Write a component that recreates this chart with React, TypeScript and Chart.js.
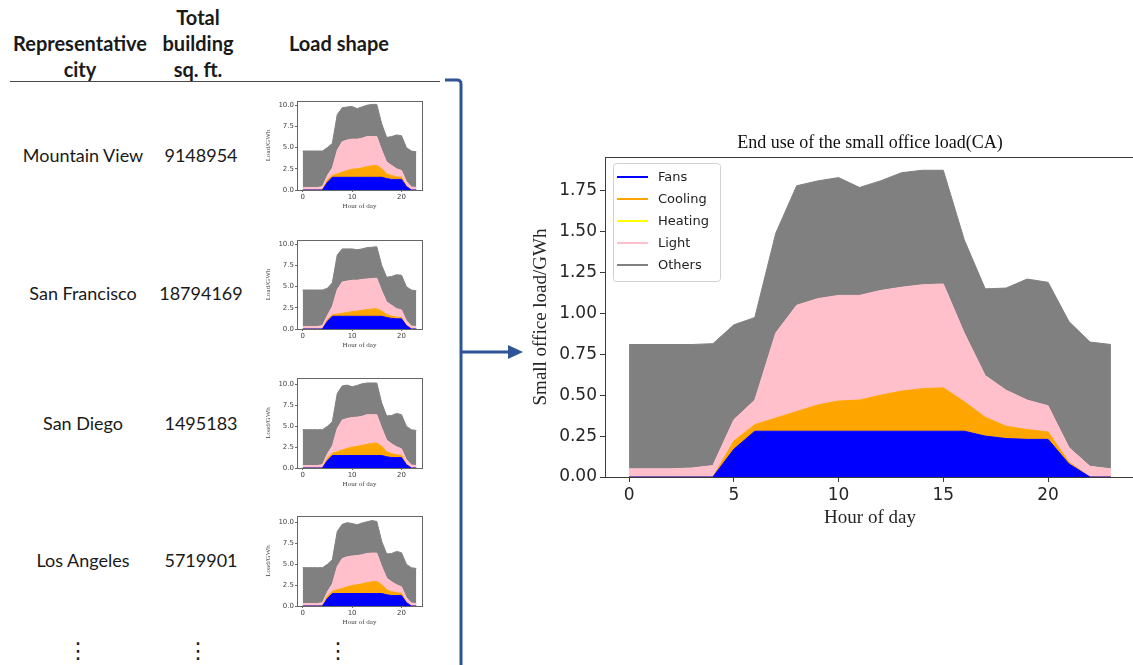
import React, { useEffect, useRef } from "react";
import { Chart, registerables } from "chart.js";
Chart.register(...registerables);

// ---------------- data ----------------
const hours = [0, 1, 2, 3, 4, 5, 6, 7, 8, 9, 10, 11, 12, 13, 14, 15, 16, 17, 18, 19, 20, 21, 22, 23];

// Main chart: end use of the small office load (CA), GWh
const caFans = [0, 0, 0, 0, 0, 0.17, 0.28, 0.28, 0.28, 0.28, 0.28, 0.28, 0.28, 0.28, 0.28, 0.28, 0.28, 0.25, 0.235, 0.23, 0.23, 0.08, 0, 0];
const caCooling = [0, 0, 0, 0, 0, 0.05, 0.04, 0.08, 0.12, 0.16, 0.185, 0.19, 0.22, 0.245, 0.26, 0.265, 0.18, 0.115, 0.075, 0.06, 0.045, 0.01, 0, 0];
const caHeating = [0, 0, 0, 0, 0, 0, 0, 0, 0, 0, 0, 0, 0, 0, 0, 0, 0, 0, 0, 0, 0, 0, 0, 0];
const caLight = [0.05, 0.05, 0.05, 0.055, 0.07, 0.13, 0.15, 0.52, 0.65, 0.65, 0.645, 0.64, 0.64, 0.635, 0.635, 0.635, 0.42, 0.255, 0.22, 0.18, 0.16, 0.09, 0.065, 0.05];
const caOthers = [0.76, 0.76, 0.76, 0.755, 0.745, 0.58, 0.505, 0.61, 0.73, 0.72, 0.72, 0.66, 0.67, 0.7, 0.7, 0.695, 0.57, 0.53, 0.625, 0.74, 0.755, 0.77, 0.76, 0.76];

// Small load-shape charts (per city)
const zeroHeating = [0, 0, 0, 0, 0, 0, 0, 0, 0, 0, 0, 0, 0, 0, 0, 0, 0, 0, 0, 0, 0, 0, 0, 0];

const mvFans = [0, 0, 0, 0, 0, 0.9, 1.5, 1.5, 1.5, 1.5, 1.5, 1.5, 1.5, 1.5, 1.5, 1.5, 1.5, 1.35, 1.25, 1.25, 1.25, 0.4, 0, 0];
const mvCooling = [0, 0, 0, 0, 0, 0.3, 0.2, 0.4, 0.6, 0.8, 0.95, 1.0, 1.1, 1.25, 1.35, 1.4, 1.0, 0.55, 0.45, 0.3, 0.25, 0.05, 0, 0];
const mvLight = [0.3, 0.3, 0.3, 0.3, 0.4, 0.5, 0.9, 2.8, 3.6, 3.6, 3.55, 3.5, 3.5, 3.55, 3.45, 3.4, 2.2, 1.4, 1.2, 0.95, 0.8, 0.55, 0.35, 0.3];
const mvOthers = [4.3, 4.3, 4.3, 4.3, 4.2, 3.3, 2.9, 4.2, 4.0, 3.9, 3.85, 3.6, 3.7, 3.7, 3.8, 3.8, 3.1, 2.9, 3.4, 4.0, 4.1, 4.0, 4.25, 4.2];

const sfFans = [0, 0, 0, 0, 0, 0.9, 1.5, 1.5, 1.5, 1.5, 1.5, 1.5, 1.5, 1.5, 1.5, 1.5, 1.5, 1.35, 1.25, 1.2, 1.2, 0.4, 0, 0];
const sfCooling = [0, 0, 0, 0, 0, 0.2, 0.15, 0.25, 0.35, 0.45, 0.55, 0.6, 0.7, 0.8, 0.85, 0.9, 0.6, 0.35, 0.25, 0.2, 0.15, 0.03, 0, 0];
const sfLight = [0.3, 0.3, 0.3, 0.3, 0.4, 0.5, 1.0, 2.9, 3.7, 3.7, 3.7, 3.65, 3.65, 3.6, 3.6, 3.6, 2.4, 1.5, 1.3, 1.0, 0.9, 0.55, 0.35, 0.3];
const sfOthers = [4.3, 4.3, 4.3, 4.3, 4.2, 3.2, 2.8, 4.1, 3.9, 3.8, 3.7, 3.6, 3.6, 3.7, 3.7, 3.7, 3.0, 2.9, 3.4, 4.0, 4.1, 4.0, 4.25, 4.2];

const sdFans = [0, 0, 0, 0, 0, 0.9, 1.5, 1.5, 1.5, 1.5, 1.5, 1.5, 1.5, 1.5, 1.5, 1.5, 1.5, 1.35, 1.25, 1.25, 1.25, 0.4, 0, 0];
const sdCooling = [0, 0, 0, 0, 0, 0.3, 0.25, 0.45, 0.65, 0.85, 1.0, 1.1, 1.2, 1.35, 1.45, 1.5, 1.1, 0.6, 0.45, 0.35, 0.25, 0.05, 0, 0];
const sdLight = [0.3, 0.3, 0.3, 0.3, 0.4, 0.5, 0.9, 2.8, 3.6, 3.6, 3.55, 3.5, 3.5, 3.55, 3.45, 3.4, 2.2, 1.4, 1.2, 0.95, 0.8, 0.55, 0.35, 0.3];
const sdOthers = [4.3, 4.3, 4.3, 4.3, 4.2, 3.3, 2.9, 4.2, 4.1, 4.0, 3.7, 3.8, 3.9, 3.8, 3.8, 3.8, 3.0, 2.9, 3.4, 4.0, 4.1, 4.0, 4.25, 4.2];

const laFans = [0, 0, 0, 0, 0, 0.9, 1.5, 1.5, 1.5, 1.5, 1.5, 1.5, 1.5, 1.5, 1.5, 1.5, 1.5, 1.35, 1.25, 1.25, 1.25, 0.4, 0, 0];
const laCooling = [0, 0, 0, 0, 0, 0.3, 0.25, 0.45, 0.6, 0.8, 0.95, 1.05, 1.15, 1.3, 1.4, 1.45, 1.05, 0.6, 0.45, 0.35, 0.25, 0.05, 0, 0];
const laLight = [0.3, 0.3, 0.3, 0.3, 0.4, 0.5, 0.9, 2.8, 3.6, 3.6, 3.55, 3.5, 3.5, 3.5, 3.45, 3.4, 2.2, 1.4, 1.2, 0.95, 0.8, 0.55, 0.35, 0.3];
const laOthers = [4.3, 4.3, 4.3, 4.3, 4.2, 3.3, 2.9, 4.2, 4.1, 4.1, 3.9, 3.7, 3.8, 3.8, 3.9, 3.8, 3.0, 2.9, 3.4, 4.0, 4.1, 4.0, 4.25, 4.2];

const seriesNames = ["Fans", "Cooling", "Heating", "Light", "Others"];
const seriesColors = ["#0000ff", "#ffa500", "#ffff00", "#ffc0cb", "#808080"];

const cityNames = ["Mountain View", "San Francisco", "San Diego", "Los Angeles"];
const citySqft = ["9148954", "18794169", "1495183", "5719901"];

const mainYTicks = [0, 0.25, 0.5, 0.75, 1.0, 1.25, 1.5, 1.75];
const mainXTicks = [0, 5, 10, 15, 20];
const smallYTicks = [0, 2.5, 5, 7.5, 10];
const smallXTicks = [0, 10, 20];

// ---------------- helpers ----------------
type ChartOpts = {
  width: number;
  height: number;
  plotLeft: number;
  plotTop: number;
  plotRight: number;
  plotBottom: number;
  yMax: number;
  yTicks: number[];
  yDigits: number;
  xTicks: number[];
  tickFont: number;
  tickLen: number;
  tickPad: number;
  tickColor: string;
  frameColor: string;
  title?: string;
  titleFont?: number;
  titleY?: number;
  xTitle: string;
  xTitleY: number;
  yTitle: string;
  yTitleX: number;
  labelFont: number;
  legend: boolean;
};

const decorPlugin = {
  id: "decor",
  afterDraw(chart: any, _args: any, o: any) {
    const { ctx, chartArea: a } = chart;
    ctx.save();
    // frame (spines)
    ctx.strokeStyle = o.frameColor;
    ctx.lineWidth = 1;
    ctx.strokeRect(Math.round(a.left) + 0.5, Math.round(a.top) + 0.5, Math.round(a.right - a.left), Math.round(a.bottom - a.top));
    const cx = (a.left + a.right) / 2;
    ctx.fillStyle = "#111";
    ctx.textAlign = "center";
    ctx.textBaseline = "middle";
    if (o.title) {
      ctx.font = `${o.titleFont}px "Liberation Serif", "DejaVu Serif", serif`;
      ctx.fillText(o.title, cx, o.titleY);
    }
    ctx.font = `${o.labelFont}px "Liberation Serif", "DejaVu Serif", serif`;
    ctx.fillStyle = o.labelColor;
    ctx.fillText(o.xTitle, cx, o.xTitleY);
    ctx.save();
    ctx.translate(o.yTitleX, (a.top + a.bottom) / 2);
    ctx.rotate(-Math.PI / 2);
    ctx.fillText(o.yTitle, 0, 0);
    ctx.restore();
    if (o.legend) {
      const bx = a.left + 8;
      const by = a.top + 6;
      const bw = 107;
      const bh = 118;
      ctx.beginPath();
      if (ctx.roundRect) ctx.roundRect(bx + 0.5, by + 0.5, bw, bh, 3);
      else ctx.rect(bx + 0.5, by + 0.5, bw, bh);
      ctx.fillStyle = "rgba(255,255,255,0.85)";
      ctx.fill();
      ctx.strokeStyle = "#d0d0d0";
      ctx.lineWidth = 1;
      ctx.stroke();
      ctx.font = `13px "DejaVu Sans", sans-serif`;
      ctx.textAlign = "left";
      ctx.textBaseline = "middle";
      seriesNames.forEach((n, i) => {
        const y = by + 14 + i * 22;
        ctx.strokeStyle = seriesColors[i];
        ctx.lineWidth = 2;
        ctx.beginPath();
        ctx.moveTo(bx + 4, y);
        ctx.lineTo(bx + 35, y);
        ctx.stroke();
        ctx.fillStyle = "#222";
        ctx.fillText(n, bx + 45, y + 1);
      });
    }
    ctx.restore();
  },
};

function buildConfig(series: number[][], o: ChartOpts): any {
  const datasets = series.map((vals, i) => ({
    label: seriesNames[i],
    data: vals.map((v, j) => ({ x: hours[j], y: v })),
    borderColor: seriesColors[i],
    backgroundColor: seriesColors[i],
    borderWidth: i === 2 ? 0 : 1,
    pointRadius: 0,
    pointHoverRadius: 0,
    tension: 0,
    fill: i === 0 ? "origin" : "-1",
  }));
  const tickFont = { family: '"DejaVu Sans", sans-serif', size: o.tickFont };
  return {
    type: "line",
    data: { datasets },
    plugins: [decorPlugin],
    options: {
      animation: false,
      responsive: false,
      maintainAspectRatio: false,
      events: [],
      layout: { padding: { left: 0, top: o.plotTop, right: o.width - o.plotRight, bottom: 0 } },
      plugins: {
        legend: { display: false },
        tooltip: { enabled: false },
        title: { display: false },
        decor: {
          frameColor: o.frameColor,
          title: o.title,
          titleFont: o.titleFont,
          titleY: o.titleY,
          xTitle: o.xTitle,
          xTitleY: o.xTitleY,
          yTitle: o.yTitle,
          yTitleX: o.yTitleX,
          labelFont: o.labelFont,
          labelColor: o.tickColor,
          legend: o.legend,
        },
      },
      scales: {
        x: {
          type: "linear",
          min: -1.15,
          max: 24.15,
          border: { display: false },
          grid: { display: true, drawOnChartArea: false, drawTicks: true, tickLength: o.tickLen, color: o.frameColor },
          ticks: {
            font: tickFont,
            color: o.tickColor,
            padding: o.tickPad,
            maxRotation: 0,
            autoSkip: false,
            callback: (v: any) => String(v),
          },
          afterBuildTicks: (s: any) => {
            s.ticks = o.xTicks.map((v) => ({ value: v }));
          },
          afterFit: (s: any) => {
            s.height = o.height - o.plotBottom;
          },
        },
        y: {
          type: "linear",
          stacked: true,
          min: 0,
          max: o.yMax,
          border: { display: false },
          grid: { display: true, drawOnChartArea: false, drawTicks: true, tickLength: o.tickLen, color: o.frameColor },
          ticks: {
            font: tickFont,
            color: o.tickColor,
            padding: o.tickPad,
            autoSkip: false,
            callback: (v: any) => Number(v).toFixed(o.yDigits),
          },
          afterBuildTicks: (s: any) => {
            s.ticks = o.yTicks.map((v) => ({ value: v }));
          },
          afterFit: (s: any) => {
            s.width = o.plotLeft;
          },
        },
      },
    },
  };
}

function StackChart(props: { series: number[][]; opts: ChartOpts; left: number; top: number }) {
  const ref = useRef<HTMLCanvasElement | null>(null);
  const { series, opts, left, top } = props;
  useEffect(() => {
    if (!ref.current) return;
    const chart = new Chart(ref.current, buildConfig(series, opts));
    return () => chart.destroy();
  }, []);
  return (
    <canvas
      ref={ref}
      width={opts.width}
      height={opts.height}
      style={{ position: "absolute", left, top, width: opts.width, height: opts.height }}
    />
  );
}

// ---------------- layout ----------------
const mainOpts: ChartOpts = {
  width: 660,
  height: 430,
  plotLeft: 105,
  plotTop: 37,
  plotRight: 635,
  plotBottom: 357,
  yMax: 1.956,
  yTicks: mainYTicks,
  yDigits: 2,
  xTicks: mainXTicks,
  tickFont: 17,
  tickLen: 5,
  tickPad: 3,
  tickColor: "#262626",
  frameColor: "#3a3a3a",
  title: "End use of the small office load(CA)",
  titleFont: 18,
  titleY: 23,
  xTitle: "Hour of day",
  xTitleY: 398,
  yTitle: "Small office load/GWh",
  yTitleX: 41,
  labelFont: 19,
  legend: true,
};

const smallBoxes = [
  { top: 101, bottom: 190, yMax: 10.5 },
  { top: 240, bottom: 329, yMax: 10.5 },
  { top: 378, bottom: 468, yMax: 10.8 },
  { top: 516, bottom: 606, yMax: 10.8 },
];

const smallSeries = [
  [mvFans, mvCooling, zeroHeating, mvLight, mvOthers],
  [sfFans, sfCooling, zeroHeating, sfLight, sfOthers],
  [sdFans, sdCooling, zeroHeating, sdLight, sdOthers],
  [laFans, laCooling, zeroHeating, laLight, laOthers],
];

function smallOpts(b: { top: number; bottom: number; yMax: number }): ChartOpts {
  const h = b.bottom - b.top;
  return {
    width: 180,
    height: h + 6 + 22,
    plotLeft: 47,
    plotTop: 6,
    plotRight: 172,
    plotBottom: 6 + h,
    yMax: b.yMax,
    yTicks: smallYTicks,
    yDigits: 1,
    xTicks: smallXTicks,
    tickFont: 7,
    tickLen: 2,
    tickPad: 1,
    tickColor: "#444",
    frameColor: "#666",
    xTitle: "Hour of day",
    xTitleY: 6 + h + 16,
    yTitle: "Load/GWh",
    yTitleX: 18,
    labelFont: 7,
    legend: false,
  };
}

const rowCenters = [155, 293, 423, 560];

const headStyle: React.CSSProperties = {
  position: "absolute",
  fontFamily: "Lato, 'Open Sans', sans-serif",
  fontWeight: 700,
  fontSize: 20,
  lineHeight: "26px",
  color: "#1a1a1a",
  textAlign: "center",
  whiteSpace: "nowrap",
};

const cellStyle: React.CSSProperties = {
  position: "absolute",
  fontFamily: "Lato, 'Open Sans', sans-serif",
  fontSize: 18,
  lineHeight: "24px",
  color: "#1a1a1a",
  textAlign: "center",
  whiteSpace: "nowrap",
  transform: "translate(-50%, -50%)",
};

export default function App() {
  return (
    <div
      style={{
        position: "absolute",
        left: 0,
        top: 0,
        width: 1133,
        height: 665,
        overflow: "hidden",
        background: "#ffffff",
      }}
    >
      {/* table headers */}
      <div style={{ ...headStyle, left: 0, top: 30, width: 160 }}>
        Representative
        <br />
        city
      </div>
      <div style={{ ...headStyle, left: 148, top: 4, width: 100 }}>
        Total
        <br />
        building
        <br />
        sq. ft.
      </div>
      <div style={{ ...headStyle, left: 284, top: 30, width: 110 }}>Load shape</div>
      <div style={{ position: "absolute", left: 10, top: 81, width: 430, height: 0, borderTop: "1.5px solid #4a4a4a" }} />

      {/* table rows */}
      {cityNames.map((c, i) => (
        <div key={"c" + i} style={{ ...cellStyle, left: 83, top: rowCenters[i] }}>
          {c}
        </div>
      ))}
      {citySqft.map((s, i) => (
        <div key={"s" + i} style={{ ...cellStyle, left: 201, top: rowCenters[i] }}>
          {s}
        </div>
      ))}
      {[78, 198, 338].map((x, i) => (
        <div
          key={"d" + i}
          style={{
            position: "absolute",
            left: x,
            top: 650,
            transform: "translate(-50%, -50%)",
            fontFamily: "'DejaVu Sans', sans-serif",
            fontSize: 22,
            color: "#1a1a1a",
          }}
        >
          ⋮
        </div>
      ))}

      {/* small load-shape charts */}
      {smallBoxes.map((b, i) => (
        <StackChart key={"sc" + i} series={smallSeries[i]} opts={smallOpts(b)} left={250} top={b.top - 6} />
      ))}

      {/* main chart */}
      <StackChart
        series={[caFans, caCooling, caHeating, caLight, caOthers]}
        opts={mainOpts}
        left={500}
        top={120}
      />

      {/* bracket and arrow */}
      <svg
        width={1133}
        height={665}
        style={{ position: "absolute", left: 0, top: 0, pointerEvents: "none" }}
      >
        <path d="M 445 80 L 457 80 Q 461 80 461 84 L 461 668" fill="none" stroke="#2f5597" strokeWidth={3} />
        <line x1={461} y1={352} x2={510} y2={352} stroke="#2f5597" strokeWidth={3} />
        <polygon points="523,352 508,345 508,359" fill="#2f5597" />
      </svg>
    </div>
  );
}
